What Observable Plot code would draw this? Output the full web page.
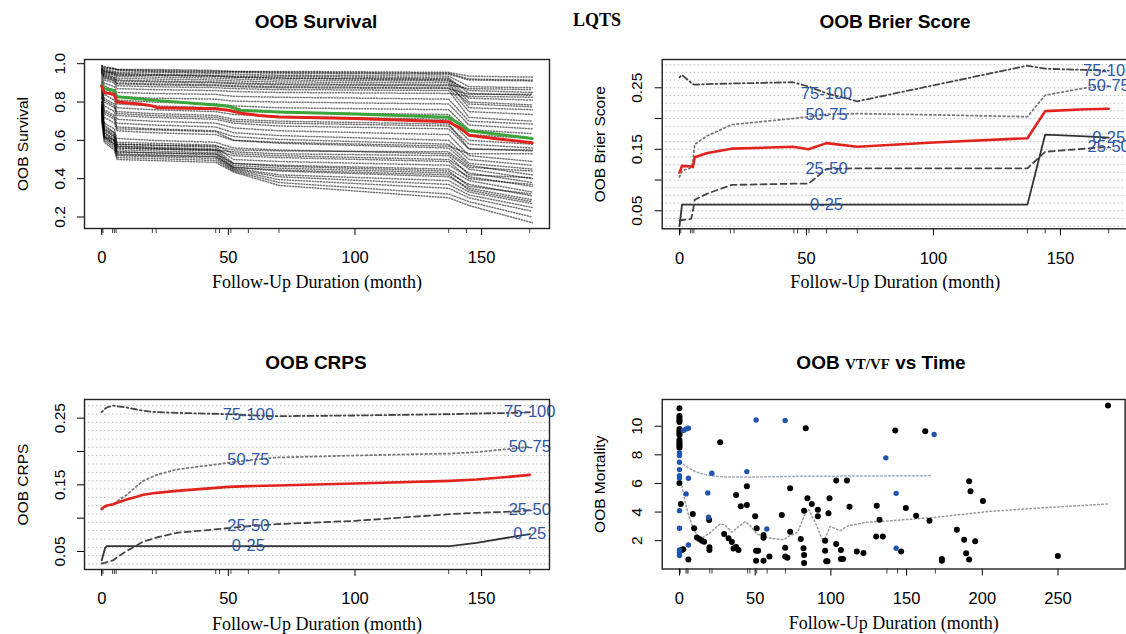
<!DOCTYPE html>
<html>
<head>
<meta charset="utf-8">
<script src="https://cdn.jsdelivr.net/npm/d3@7"></script>
<script src="https://cdn.jsdelivr.net/npm/@observablehq/plot@0.6"></script>
<style>
  html, body { margin: 0; padding: 0; background: #fff; overflow: hidden; }
  #root { position: relative; width: 1126px; height: 634px; overflow: hidden; background: #fff; }
  #root svg { position: absolute; }
  .ttl { position: absolute; transform: translateX(-50%); white-space: nowrap; line-height: 1;
         font-family: "Liberation Sans", Arial, Helvetica, sans-serif; font-weight: bold; font-size: 19px; color: #000; }
  .serif { font-family: "Liberation Serif", "Times New Roman", Times, serif; }
</style>
</head>
<body>
<div id="root">
  <div class="ttl" style="left:316px; top:12px">OOB Survival</div>
  <div class="ttl serif" style="left:597px; top:11px; font-size:18px">LQTS</div>
  <div class="ttl" style="left:895px; top:12px">OOB Brier Score</div>
  <div class="ttl" style="left:316px; top:353px">OOB CRPS</div>
  <div class="ttl" style="left:881px; top:353px">OOB <span class="serif" style="font-size:15px">VT/VF</span> vs Time</div>
</div>
<script>
// ======================= DATA =======================
// Event times (rug marks under the time axes)
const eventTimes = [0, 0.5, 4.3, 5, 5.7, 20, 21.5, 45, 46.5, 51, 57.9, 70, 137, 144, 169];

// --- Panel 1: individual OOB survival curves (values at survTime) ---
const survTime = [0, 1, 5, 6, 20, 45, 52, 70, 137, 145, 170];
const survCurves = [
  [0.99, 0.98, 0.975, 0.97, 0.97, 0.965, 0.96, 0.96, 0.955, 0.935, 0.93],
  [0.985, 0.975, 0.97, 0.965, 0.96, 0.955, 0.955, 0.95, 0.945, 0.915, 0.91],
  [0.98, 0.97, 0.96, 0.955, 0.955, 0.95, 0.945, 0.94, 0.935, 0.88, 0.875],
  [0.975, 0.965, 0.955, 0.95, 0.945, 0.94, 0.935, 0.935, 0.925, 0.845, 0.835],
  [0.97, 0.96, 0.95, 0.94, 0.94, 0.935, 0.93, 0.925, 0.92, 0.82, 0.81],
  [0.97, 0.955, 0.945, 0.935, 0.93, 0.925, 0.92, 0.915, 0.91, 0.80, 0.785],
  [0.965, 0.95, 0.94, 0.925, 0.92, 0.915, 0.91, 0.905, 0.90, 0.77, 0.76],
  [0.96, 0.945, 0.93, 0.915, 0.91, 0.905, 0.90, 0.895, 0.89, 0.87, 0.865],
  [0.955, 0.935, 0.92, 0.90, 0.895, 0.89, 0.885, 0.88, 0.875, 0.75, 0.735],
  [0.95, 0.925, 0.91, 0.885, 0.88, 0.875, 0.87, 0.865, 0.86, 0.72, 0.70],
  [0.94, 0.915, 0.90, 0.87, 0.865, 0.86, 0.855, 0.85, 0.845, 0.83, 0.825],
  [0.93, 0.90, 0.88, 0.85, 0.845, 0.84, 0.83, 0.825, 0.815, 0.70, 0.685],
  [0.92, 0.885, 0.86, 0.83, 0.82, 0.815, 0.805, 0.80, 0.79, 0.68, 0.66],
  [0.91, 0.87, 0.845, 0.81, 0.80, 0.79, 0.78, 0.77, 0.76, 0.655, 0.635],
  [0.90, 0.855, 0.83, 0.79, 0.78, 0.77, 0.755, 0.745, 0.735, 0.63, 0.61],
  [0.89, 0.84, 0.81, 0.77, 0.76, 0.75, 0.735, 0.725, 0.71, 0.60, 0.58],
  [0.88, 0.82, 0.79, 0.75, 0.74, 0.73, 0.71, 0.70, 0.685, 0.555, 0.55],
  [0.87, 0.80, 0.77, 0.73, 0.72, 0.71, 0.69, 0.675, 0.66, 0.555, 0.545],
  [0.86, 0.78, 0.75, 0.71, 0.70, 0.69, 0.665, 0.65, 0.63, 0.52, 0.49],
  [0.85, 0.76, 0.73, 0.69, 0.68, 0.67, 0.64, 0.625, 0.60, 0.50, 0.47],
  [0.84, 0.74, 0.71, 0.67, 0.66, 0.65, 0.62, 0.605, 0.58, 0.48, 0.45],
  [0.82, 0.72, 0.69, 0.65, 0.64, 0.63, 0.60, 0.585, 0.56, 0.47, 0.42],
  [0.80, 0.69, 0.66, 0.61, 0.60, 0.59, 0.56, 0.55, 0.53, 0.45, 0.40],
  [0.79, 0.67, 0.64, 0.59, 0.585, 0.575, 0.53, 0.52, 0.50, 0.43, 0.38],
  [0.78, 0.66, 0.63, 0.58, 0.575, 0.565, 0.50, 0.49, 0.47, 0.41, 0.36],
  [0.77, 0.65, 0.62, 0.57, 0.565, 0.555, 0.48, 0.47, 0.45, 0.39, 0.33],
  [0.76, 0.64, 0.61, 0.56, 0.555, 0.545, 0.47, 0.455, 0.43, 0.37, 0.31],
  [0.75, 0.63, 0.60, 0.55, 0.545, 0.535, 0.46, 0.44, 0.41, 0.35, 0.29],
  [0.74, 0.62, 0.59, 0.54, 0.535, 0.525, 0.455, 0.42, 0.39, 0.33, 0.27],
  [0.73, 0.615, 0.58, 0.53, 0.525, 0.515, 0.45, 0.41, 0.37, 0.315, 0.25],
  [0.72, 0.61, 0.57, 0.52, 0.515, 0.505, 0.445, 0.395, 0.35, 0.30, 0.23],
  [0.71, 0.60, 0.56, 0.51, 0.505, 0.495, 0.44, 0.38, 0.32, 0.28, 0.20],
  [0.70, 0.59, 0.55, 0.50, 0.495, 0.485, 0.435, 0.365, 0.30, 0.26, 0.17],
  [0.76, 0.62, 0.60, 0.57, 0.56, 0.55, 0.54, 0.53, 0.52, 0.42, 0.405],
  [0.99, 0.985, 0.975, 0.97, 0.965, 0.96, 0.96, 0.955, 0.95, 0.92, 0.915],
  [0.975, 0.96, 0.95, 0.945, 0.94, 0.935, 0.93, 0.925, 0.915, 0.86, 0.85],
  [0.96, 0.94, 0.925, 0.91, 0.905, 0.90, 0.895, 0.89, 0.885, 0.79, 0.775],
  [0.95, 0.93, 0.915, 0.895, 0.89, 0.885, 0.88, 0.875, 0.87, 0.84, 0.84],
  [0.80, 0.68, 0.64, 0.58, 0.575, 0.57, 0.55, 0.545, 0.54, 0.46, 0.44],
  [0.78, 0.66, 0.62, 0.56, 0.555, 0.55, 0.52, 0.51, 0.49, 0.40, 0.37],
  [0.77, 0.64, 0.60, 0.54, 0.535, 0.53, 0.48, 0.465, 0.44, 0.36, 0.32],
  [0.75, 0.62, 0.58, 0.525, 0.52, 0.515, 0.46, 0.445, 0.42, 0.34, 0.28],
  [0.83, 0.75, 0.72, 0.66, 0.655, 0.645, 0.60, 0.59, 0.57, 0.53, 0.53],
  [0.87, 0.81, 0.78, 0.74, 0.73, 0.72, 0.70, 0.69, 0.675, 0.58, 0.56]
];
// ensemble (red) and Kaplan-Meier (green)
const ensTime = [0, 1, 5, 6, 15, 20, 22, 45, 50, 55, 62, 70, 100, 137, 142, 145, 155, 170];
const ensSurv = [0.882, 0.85, 0.84, 0.80, 0.79, 0.78, 0.77, 0.765, 0.757, 0.742, 0.73, 0.722, 0.714, 0.697, 0.66, 0.627, 0.61, 0.588];
const kmTime = [0, 1, 5, 6, 20, 45, 50, 55, 70, 100, 137, 142, 145, 170];
const kmSurv = [0.887, 0.87, 0.86, 0.827, 0.81, 0.785, 0.778, 0.757, 0.748, 0.737, 0.72, 0.68, 0.65, 0.61];
const survYTicks = [0.2, 0.4, 0.6, 0.8, 1.0];
const survYLabels = ["0.2", "0.4", "0.6", "0.8", "1.0"];

// --- time axis ticks (panels 1-3) ---
const timeTicks = [0, 50, 100, 150];
const timeTickLabels = ["0", "50", "100", "150"];

// --- Panel 2: Brier score ---
const quartileNames = ["0-25", "25-50", "50-75", "75-100"];
const brierTime   = [0, 1, 4.6, 5.3, 6, 11, 20.5, 44.7, 50.8, 57.9, 70, 100, 137, 144, 160, 169];
const brierAll    = [0.112, 0.123, 0.122, 0.121, 0.137, 0.144, 0.151, 0.154, 0.150, 0.160, 0.154, 0.161, 0.168, 0.212, 0.215, 0.216];
const brier0_25   = [0.025, 0.060, 0.060, 0.060, 0.060, 0.060, 0.060, 0.060, 0.060, 0.060, 0.060, 0.060, 0.060, 0.174, 0.171, 0.169];
const brier25_50  = [0.034, 0.035, 0.037, 0.050, 0.068, 0.078, 0.092, 0.094, 0.094, 0.118, 0.119, 0.119, 0.119, 0.146, 0.151, 0.154];
const brier50_75  = [0.105, 0.115, 0.120, 0.130, 0.158, 0.172, 0.190, 0.200, 0.203, 0.207, 0.208, 0.206, 0.203, 0.238, 0.250, 0.253];
const brier75_100 = [0.267, 0.271, 0.258, 0.256, 0.255, 0.256, 0.257, 0.259, 0.252, 0.241, 0.228, 0.254, 0.286, 0.281, 0.279, 0.278];

// --- Panel 3: CRPS ---
const crpsTime   = [0, 1.3, 2, 4.6, 6, 9.9, 13.8, 16.4, 21.7, 29.6, 50, 57.9, 69, 100, 137.5, 148, 163.8, 169];
const crpsAll    = [0.114, 0.118, 0.119, 0.121, 0.123, 0.128, 0.132, 0.135, 0.138, 0.141, 0.147, 0.148, 0.149, 0.152, 0.156, 0.158, 0.163, 0.165];
const crps0_25   = [0.037, 0.055, 0.058, 0.058, 0.058, 0.058, 0.058, 0.058, 0.058, 0.058, 0.058, 0.058, 0.058, 0.058, 0.058, 0.063, 0.073, 0.076];
const crps25_50  = [0.032, 0.033, 0.034, 0.037, 0.041, 0.051, 0.059, 0.065, 0.071, 0.078, 0.085, 0.088, 0.091, 0.096, 0.106, 0.108, 0.110, 0.112];
const crps50_75  = [0.113, 0.116, 0.118, 0.121, 0.125, 0.135, 0.148, 0.156, 0.165, 0.173, 0.183, 0.187, 0.191, 0.194, 0.197, 0.199, 0.205, 0.207];
const crps75_100 = [0.259, 0.264, 0.266, 0.269, 0.268, 0.266, 0.263, 0.261, 0.259, 0.258, 0.256, 0.2545, 0.253, 0.254, 0.256, 0.257, 0.258, 0.259];
const labelTime = 57.9;
const scoreYTicks = [0.05, 0.10, 0.15, 0.20, 0.25];
const scoreYLabels = ["0.05", "", "0.15", "", "0.25"];

// --- Panel 4: OOB mortality vs time ---
const blackX = [0,0,0,0,0,0,0,0,0,0,0,0,0,0,0,
  0.9, 1.5, 2.4, 5.9, 8.8, 9.7, 11.5, 13.2, 14.8, 16.3, 19.8, 19.8, 19.6, 26.9, 29.5, 32.4, 34.6, 35.7, 37.4, 39,
  37.4, 40.5, 44.5, 44.5, 50, 51, 50.6, 52, 50.6, 55.5, 55.5, 55.5, 59.4, 67.6, 69.8, 69.8, 71.3, 73.1, 73.1, 80.1,
  81.9, 82.3, 82.3, 82.3, 83.4, 84.5, 87.4, 91.4, 91.4, 96.2, 96.2, 96.9, 97.8, 98.4, 99.1, 103.5, 103.5, 106.6, 106.6,
  108, 110.6, 112.3, 117.1, 121.5, 129.9, 130.3, 132.1, 134.3, 142.5, 146.4, 149.5, 156.3, 162.3, 165.1, 173.3, 173.3,
  183.2, 188, 189.3, 191.3, 191.3, 192.2, 195.3, 200.4, 249.9, 283];
const blackY = [11.26, 10.72, 10.56, 10.40, 10.30, 9.81, 9.63, 9.50, 9.38, 9.04, 8.88, 8.75, 8.62, 8.50, 6.04,
  4.57, 1.35, 1.40, 0.68, 3.87, 2.87, 2.22, 2.12, 2.0, 1.93, 1.54, 1.35, 3.45, 8.88, 2.47, 2.17, 1.9, 1.45, 1.55, 1.35,
  5.2, 4.4, 4.5, 5.8, 3.7, 2.87, 1.3, 1.3, 0.6, 0.6, 2.4, 2.2, 0.9, 3.8, 1.5, 0.9, 0.8, 5.66, 2.63, 2.12,
  1.47, 1.0, 0.44, 4.1, 9.86, 4.97, 4.57, 4.17, 3.7, 2.0, 1.3, 0.56, 0.56, 3.92, 4.97, 6.2, 1.77, 1.35, 0.72,
  0.72, 6.2, 4.38, 1.24, 1.14, 2.3, 4.45, 3.47, 2.3, 9.7, 1.24, 4.29, 3.75, 9.65, 3.4, 0.72, 0.6,
  2.77, 2.07, 1.12, 0.68, 6.15, 5.45, 1.96, 4.78, 0.93, 11.45];
const blueX = [0, 0, 0, 0, 0, 0, 0, 0, 0, 0, 0, 2.6, 4.4, 5.9, 5.9, 4.4, 5.9, 21.4, 18.7, 19.2, 50.6, 69.8, 44.5, 57.7, 168.2, 136.3, 143.1, 143.1];
const blueY = [8.15, 7.95, 7.48, 6.97, 6.55, 6.39, 4.1, 2.87, 1.35, 1.19, 0.96, 9.7, 9.81, 9.86, 6.36, 5.27, 1.7, 6.71, 5.34, 3.64, 10.44, 10.4, 6.83, 2.82, 9.42, 7.79, 5.31, 1.47];
const smoothBlueX = [0.5, 5, 9, 14, 20, 30, 50, 80, 120, 167];
const smoothBlueY = [7.5, 7.15, 6.9, 6.7, 6.55, 6.45, 6.45, 6.5, 6.52, 6.55];
const smoothBlackX = [0.5, 1.5, 4, 6, 9.2, 13.6, 19.2, 26.9, 30, 34.6, 43.4, 46.7, 51, 59.9, 68.7, 73, 78, 83, 85.2, 90, 95.1, 99.5, 106, 111.6, 123.7, 140, 168, 205, 240, 283];
const smoothBlackY = [6.1, 5.85, 4.6, 3.8, 2.82, 2.12, 2.47, 3.17, 3.1, 2.6, 3.33, 3.05, 2.47, 2.17, 2.07, 2.35, 2.6, 3.87, 4.2, 3.2, 1.9, 3.0, 2.7, 3.05, 3.29, 3.4, 3.62, 4.05, 4.3, 4.57];
const mortXTicks = [0, 50, 100, 150, 200, 250];
const mortXLabels = ["0", "50", "100", "150", "200", "250"];
const mortYTicks = [2, 4, 6, 8, 10];
const mortYLabels = ["2", "4", "6", "8", "10"];

// ======================= DRAWING =======================
const SANS = "'Liberation Sans', Arial, Helvetica, sans-serif";
const SERIF = "'Liberation Serif', 'Times New Roman', Times, serif";
const LABEL_BLUE = "#2f57a6";
const DOT_BLUE = "#2155ad";
const RED = "#e0231d";
const root = document.getElementById("root");

function place(svg, left, top) {
  svg.style.left = left + "px";
  svg.style.top = top + "px";
  root.appendChild(svg);
}

function axes({xTicks, xLabels, yTicks, yLabels, yTitle, xTitleDy}) {
  const xl = new Map(xTicks.map((d, i) => [d, xLabels[i]]));
  const yl = new Map(yTicks.map((d, i) => [d, yLabels[i]]));
  return [
    Plot.axisX({ticks: eventTimes, tickSize: 5, tickFormat: () => "", label: null, stroke: "#444"}),
    Plot.axisX({ticks: xTicks, tickSize: 7, tickPadding: 16, tickFormat: d => xl.get(d), label: null, fontSize: 16.5, fontFamily: SANS}),
    Plot.axisY({ticks: yTicks, tickSize: 7, tickPadding: 13, tickRotate: -90, tickFormat: d => yl.get(d), label: null, fontSize: 15.5, fontFamily: SANS}),
    Plot.frame({stroke: "#222", strokeWidth: 1.4}),
    Plot.text([yTitle], {text: d => d, frameAnchor: "left", dx: -57, rotate: -90, textAnchor: "middle", lineAnchor: "bottom", fontSize: 15.5, fontFamily: SANS}),
    Plot.text(["Follow-Up Duration (month)"], {text: d => d, frameAnchor: "bottom", textAnchor: "middle", dy: xTitleDy, lineAnchor: "bottom", fontSize: 18, fontFamily: SERIF})
  ];
}

const baseStyle = {background: "none", overflow: "visible", maxWidth: "none", fontFamily: SANS, color: "#000"};

// ---------- Panel 1 ----------
const survLong = survCurves.flatMap((c, id) => c.map((s, i) => ({id, t: survTime[i], s})));
const ensRows = ensTime.map((t, i) => ({t, s: ensSurv[i]}));
const kmRows = kmTime.map((t, i) => ({t, s: kmSurv[i]}));

const p1 = Plot.plot({
  width: 563, height: 317,
  marginLeft: 84, marginRight: 14, marginTop: 59, marginBottom: 89,
  x: {domain: [-6.8, 176.8]},
  y: {domain: [0.14, 1.022]},
  style: baseStyle,
  marks: [
    Plot.line(survLong, {x: "t", y: "s", z: "id", stroke: "#000", strokeWidth: 1.5, strokeDasharray: "1,1.8", strokeOpacity: 0.55}),
    Plot.line(kmRows, {x: "t", y: "s", stroke: "#3aa63a", strokeWidth: 3}),
    Plot.line(ensRows, {x: "t", y: "s", stroke: RED, strokeWidth: 3}),
    ...axes({xTicks: timeTicks, xLabels: timeTickLabels, yTicks: survYTicks, yLabels: survYLabels, yTitle: "OOB Survival", xTitleDy: 59})
  ]
});
place(p1, 0, 0);

// ---------- score panels (2 & 3) ----------
const lineStyles = [
  {stroke: "#333", strokeWidth: 1.8},
  {stroke: "#444", strokeWidth: 1.8, strokeDasharray: "6,4"},
  {stroke: "#777", strokeWidth: 1.8, strokeDasharray: "1.6,3"},
  {stroke: "#444", strokeWidth: 1.8, strokeDasharray: "1.6,3,6,3"}
];

function scorePanel({time, all, quart, yDomain, grid, yTitle, width, marginLeft, marginRight, marginTop, marginBottom, xTitleDy}) {
  const mid = time.indexOf(labelTime);
  const last = time.length - 1;
  const labels = quart.flatMap((s, q) => [
    {t: time[mid], v: s[mid], lab: quartileNames[q]},
    {t: time[last], v: s[last], lab: quartileNames[q]}
  ]);
  const qLines = quart.map((s, q) => Plot.line(time.map((t, i) => ({t, v: s[i]})), {x: "t", y: "v", ...lineStyles[q]}));
  return Plot.plot({
    width, height: 317,
    marginLeft, marginRight, marginTop, marginBottom,
    x: {domain: [-6.8, 176.8]},
    y: {domain: yDomain},
    style: baseStyle,
    marks: [
      Plot.gridY({ticks: grid, stroke: "#aaa", strokeOpacity: 0.8, strokeDasharray: "1.5,2.5"}),
      ...qLines,
      Plot.line(time.map((t, i) => ({t, v: all[i]})), {x: "t", y: "v", stroke: RED, strokeWidth: 2.6}),
      Plot.text(labels, {x: "t", y: "v", text: "lab", fill: LABEL_BLUE, fontSize: 16.5, fontFamily: SANS}),
      ...axes({xTicks: timeTicks, xLabels: timeTickLabels, yTicks: scoreYTicks, yLabels: scoreYLabels, yTitle, xTitleDy})
    ]
  });
}

const p2 = scorePanel({
  time: brierTime, all: brierAll, quart: [brier0_25, brier25_50, brier50_75, brier75_100],
  yDomain: [0.0207, 0.296], grid: d3.range(0.025, 0.29, 0.0125),
  yTitle: "OOB Brier Score", width: 570, marginLeft: 98.7, marginRight: 5,
  marginTop: 59, marginBottom: 88.7, xTitleDy: 59
});
place(p2, 563, 0);

const p3 = scorePanel({
  time: crpsTime, all: crpsAll, quart: [crps0_25, crps25_50, crps50_75, crps75_100],
  yDomain: [0.023, 0.278], grid: d3.range(0.03125, 0.275, 0.0125),
  yTitle: "OOB CRPS", width: 563, marginLeft: 84, marginRight: 14,
  marginTop: 82, marginBottom: 65, xTitleDy: 60
});
place(p3, 0, 317);

// ---------- Panel 4 ----------
const blackRows = blackX.map((x, i) => ({x, y: blackY[i]}));
const blueRows = blueX.map((x, i) => ({x, y: blueY[i]}));
const smBlue = smoothBlueX.map((x, i) => ({x, y: smoothBlueY[i]}));
const smBlack = smoothBlackX.map((x, i) => ({x, y: smoothBlackY[i]}));

const p4 = Plot.plot({
  width: 570, height: 317,
  marginLeft: 98.7, marginRight: 8.4, marginTop: 82, marginBottom: 65.5,
  x: {domain: [-11.4, 294.3]},
  y: {domain: [0.02, 11.87]},
  style: baseStyle,
  marks: [
    Plot.line(smBlue, {x: "x", y: "y", stroke: "#9aa3b5", strokeWidth: 1.5, strokeDasharray: "1.5,2.5"}),
    Plot.line(smBlack, {x: "x", y: "y", stroke: "#999", strokeWidth: 1.5, strokeDasharray: "1.5,2.5"}),
    Plot.dot(blackRows, {x: "x", y: "y", r: 3, fill: "#000", stroke: "none"}),
    Plot.dot(blueRows, {x: "x", y: "y", r: 2.7, fill: DOT_BLUE, stroke: "none"}),
    ...axes({xTicks: mortXTicks, xLabels: mortXLabels, yTicks: mortYTicks, yLabels: mortYLabels, yTitle: "OOB Mortality", xTitleDy: 60})
  ]
});
place(p4, 563, 317);
</script>
</body>
</html>
